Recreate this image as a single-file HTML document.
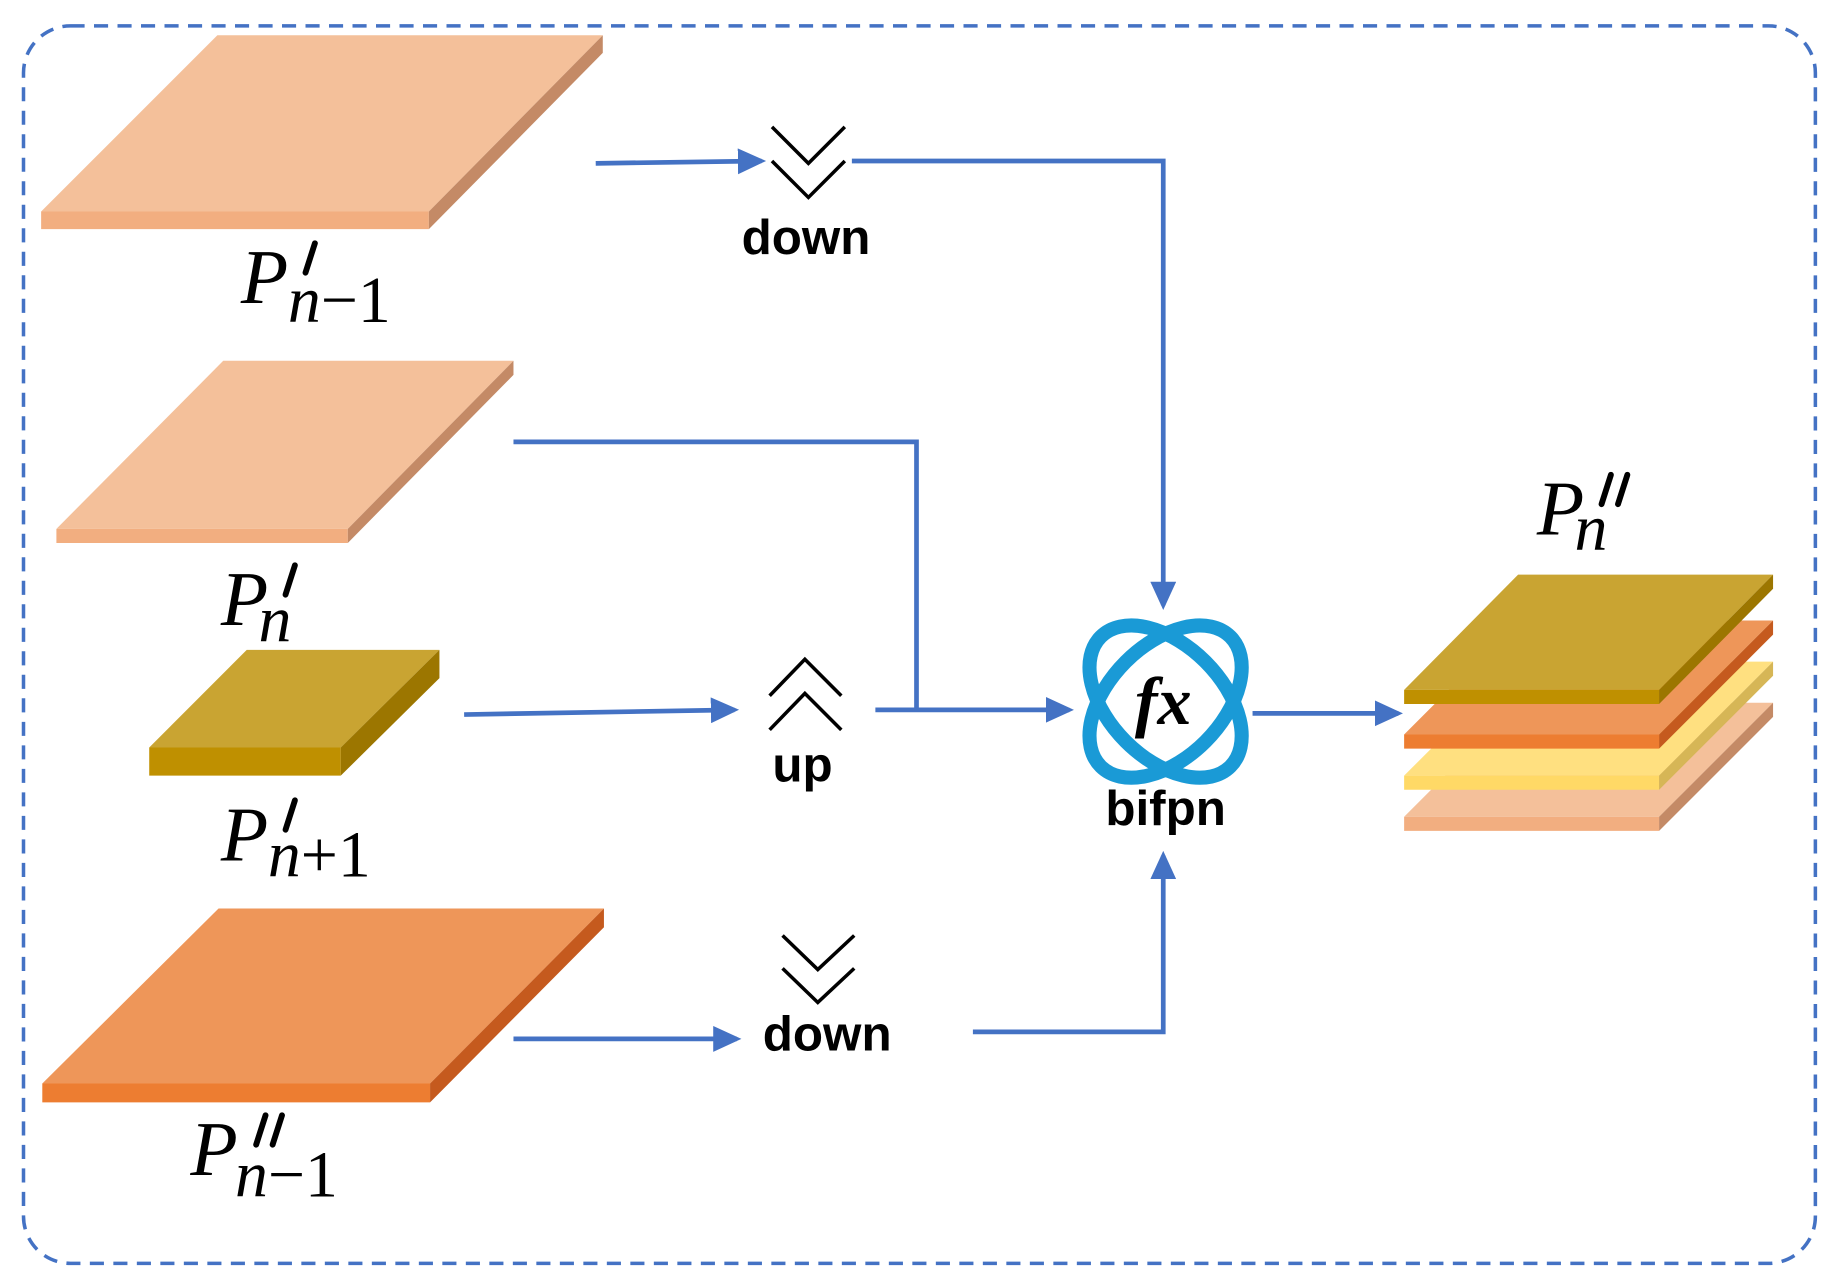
<!DOCTYPE html>
<html><head><style>html,body{margin:0;padding:0;background:#fff}svg{display:block}</style></head>
<body>
<svg width="1833" height="1281" viewBox="0 0 1560 1090" preserveAspectRatio="none" xmlns="http://www.w3.org/2000/svg">
<defs>
<marker id="a" markerWidth="24" markerHeight="22" refX="20" refY="11" orient="auto" markerUnits="userSpaceOnUse" viewBox="0 0 24 22"><path d="M0,0 L24,11 L0,22 z" fill="#4472c4"/></marker>
</defs>
<rect x="20" y="22" width="1525" height="1053" rx="40" fill="none" stroke="#4472c4" stroke-width="3" stroke-dasharray="12 8"/>

<polygon points="35,180 365,180 513,30 185,30" fill="#f4c09a"/>
<polygon points="35,180 365,180 365,195 35,195" fill="#f2ae80"/>
<polygon points="365,180 513,30 513,45 365,195" fill="#c48a66"/>
<polygon points="48,450 296,450 437,307 190,307" fill="#f4c09a"/>
<polygon points="48,450 296,450 296,462 48,462" fill="#f2ae80"/>
<polygon points="296,450 437,307 437,319 296,462" fill="#c48a66"/>
<polygon points="127,636 290,636 374,553 210,553" fill="#c9a432"/>
<polygon points="127,636 290,636 290,660 127,660" fill="#bf9000"/>
<polygon points="290,636 374,553 374,577 290,660" fill="#9c7600"/>
<polygon points="36,922 366,922 514,773 186,773" fill="#ee9659"/>
<polygon points="36,922 366,922 366,938 36,938" fill="#ed7d31"/>
<polygon points="366,922 514,773 514,789 366,938" fill="#c55a1e"/>

<polygon points="1195,695 1412,695 1509,598 1292,598" fill="#f4c09a"/>
<polygon points="1195,695 1412,695 1412,707 1195,707" fill="#f2ae80"/>
<polygon points="1412,695 1509,598 1509,610 1412,707" fill="#c48a66"/>
<polygon points="1195,660 1412,660 1509,563 1292,563" fill="#ffe080"/>
<polygon points="1195,660 1412,660 1412,672 1195,672" fill="#ffd966"/>
<polygon points="1412,660 1509,563 1509,575 1412,672" fill="#d6b656"/>
<polygon points="1195,625 1412,625 1509,528 1292,528" fill="#ee9659"/>
<polygon points="1195,625 1412,625 1412,637 1195,637" fill="#ed7d31"/>
<polygon points="1412,625 1509,528 1509,540 1412,637" fill="#c55a1e"/>
<polygon points="1195,587 1412,587 1509,489 1292,489" fill="#c9a432"/>
<polygon points="1195,587 1412,587 1412,599 1195,599" fill="#bf9000"/>
<polygon points="1412,587 1509,489 1509,501 1412,599" fill="#9c7600"/>

<g stroke="#4472c4" stroke-width="4" fill="none">
<line x1="507" y1="139" x2="648" y2="137" marker-end="url(#a)"/>
<polyline points="725,137 990,137 990,515" marker-end="url(#a)"/>
<polyline points="437,376 780,376 780,603"/>
<line x1="395" y1="608" x2="625" y2="604" marker-end="url(#a)"/>
<line x1="745" y1="604" x2="910" y2="604" marker-end="url(#a)"/>
<line x1="1066" y1="607" x2="1190" y2="607" marker-end="url(#a)"/>
<line x1="437" y1="884" x2="627" y2="884" marker-end="url(#a)"/>
<polyline points="828,878 990,878 990,728" marker-end="url(#a)"/>
</g>

<g stroke="#000" stroke-width="3" fill="none">
<polyline points="657,108 688,139 719,108"/><polyline points="657,137 688,168 719,137"/>
<polyline points="655,592 685,561 716,592"/><polyline points="655,621 685,590 716,621"/>
<polyline points="666,796 696,825 727,796"/><polyline points="666,824 696,853 727,824"/>
</g>
<g font-family="Liberation Sans, sans-serif" font-size="42" font-weight="bold" text-anchor="middle" fill="#000">
<text x="686" y="216">down</text>
<text x="683" y="665">up</text>
<text x="704" y="894">down</text>
<text x="992" y="702">bifpn</text>
</g>

<g stroke="#1a9ad6" stroke-width="12" fill="none" stroke-linecap="round">
<ellipse cx="992" cy="597" rx="78" ry="48" transform="rotate(45 992 597)"/>
<ellipse cx="992" cy="597" rx="78" ry="48" transform="rotate(-45 992 597)"/>
</g>
<text x="990" y="616" font-family="Liberation Serif, serif" font-style="italic" font-weight="bold" font-size="58" text-anchor="middle" fill="#000">fx</text>

<g font-family="Liberation Serif, serif" fill="#000">
<text x="205" y="258" font-size="66" font-style="italic">P</text>
<text x="245" y="274" font-size="56"><tspan font-style="italic">n</tspan>−1</text>

<text x="188" y="532" font-size="66" font-style="italic">P</text>
<text x="220" y="546" font-size="56" font-style="italic">n</text>

<text x="188" y="732" font-size="66" font-style="italic">P</text>
<text x="228" y="746" font-size="56"><tspan font-style="italic">n</tspan>+1</text>

<text x="162" y="1000" font-size="66" font-style="italic">P</text>
<text x="200" y="1018" font-size="56"><tspan font-style="italic">n</tspan>−1</text>

<text x="1308" y="455" font-size="66" font-style="italic">P</text>
<text x="1340" y="468" font-size="56" font-style="italic">n</text>
</g>
<g stroke="#000" stroke-width="5" stroke-linecap="round">
<line x1="268" y1="207" x2="260" y2="232"/>
<line x1="251" y1="481" x2="243" y2="506"/>
<line x1="251" y1="681" x2="243" y2="706"/>
<line x1="226" y1="949" x2="218" y2="974"/><line x1="240" y1="949" x2="232" y2="974"/>
<line x1="1371" y1="404" x2="1363" y2="429"/><line x1="1385" y1="404" x2="1377" y2="429"/>
</g>
</svg>
</body></html>
